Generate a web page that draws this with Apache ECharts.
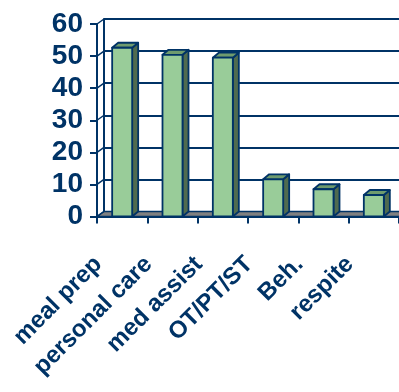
<!DOCTYPE html>
<html>
<head>
<meta charset="utf-8">
<script src="https://cdn.jsdelivr.net/npm/echarts@6/dist/echarts.min.js"></script>
<style>
html,body{margin:0;padding:0;background:#fff;}
#c{width:399px;height:392px;}
</style>
</head>
<body>
<div id="c"></div>
<script>
var categories = ['meal prep', 'personal care', 'med assist', 'OT/PT/ST', 'Beh.', 'respite'];
var values = [52.6, 50.4, 49.5, 11.6, 8.5, 6.7];
var yTicks = [0, 10, 20, 30, 40, 50, 60];

var NAVY = '#003366';
var DX = 7, DY = -5;      // wall depth
var BDX = 6, BDY = -5;    // bar depth
var BAR_W = 20;

var chart = echarts.init(document.getElementById('c'), null, {renderer: 'canvas'});

function wallRender(params, api) {
  var band = api.size([1, 0])[0];
  var p0 = api.coord([0, 0]);
  var pN = api.coord([categories.length - 1, 0]);
  var xl = p0[0] - band / 2, xr = pN[0] + band / 2, yb = p0[1];
  var children = [];
  children.push({
    type: 'polygon', z2: 1,
    shape: {points: [[xl, yb], [xr, yb], [xr + DX, yb + DY], [xl + DX, yb + DY]]},
    style: {fill: '#808080', stroke: NAVY, lineWidth: 1.5}
  });
  yTicks.forEach(function (v) {
    var p = api.coord([0, v]);
    children.push({
      type: 'line', z2: 2,
      shape: {x1: xl, y1: p[1], x2: xl + DX, y2: p[1] + DY},
      style: {stroke: NAVY, lineWidth: 1.5}
    });
  });
  return {type: 'group', children: children};
}

function barRender(params, api) {
  var v = api.value(1);
  var top = api.coord([api.value(0), v]);
  var bot = api.coord([api.value(0), 0]);
  var cx = top[0], yt = top[1], yb = bot[1];
  var x0 = cx - BAR_W / 2, x1 = cx + BAR_W / 2;
  var st = {stroke: NAVY, lineWidth: 1.8, lineJoin: 'round'};
  return {
    type: 'group',
    children: [
      {type: 'polygon', shape: {points: [[x1, yt], [x1 + BDX, yt + BDY], [x1 + BDX, yb + BDY], [x1, yb]]},
        style: Object.assign({fill: '#4F6B4F'}, st)},
      {type: 'polygon', shape: {points: [[x0, yt], [x1, yt], [x1 + BDX, yt + BDY], [x0 + BDX, yt + BDY]]},
        style: Object.assign({fill: '#6E9B6E'}, st)},
      {type: 'rect', shape: {x: x0, y: yt, width: BAR_W, height: yb - yt},
        style: Object.assign({fill: '#99CC99'}, st)}
    ]
  };
}

var gridW = 303.6, gridH = 192.5, gridL = 97, gridT = 24;

chart.setOption({
  animation: false,
  backgroundColor: '#fff',
  grid: [
    {left: gridL, top: gridT, width: gridW, height: gridH, containLabel: false},
    {left: gridL + DX, top: gridT + DY, width: gridW, height: gridH, containLabel: false}
  ],
  xAxis: [
    {
      type: 'category', gridIndex: 0, data: categories, boundaryGap: true,
      axisLine: {show: true, lineStyle: {color: NAVY, width: 2}},
      axisTick: {show: true, length: 7, lineStyle: {color: NAVY, width: 2}},
      axisLabel: {
        rotate: 45, margin: 20, interval: 0,
        color: NAVY, fontFamily: '"Liberation Sans", Arial, sans-serif',
        fontWeight: 'bold', fontSize: 24, padding: [0, 34, 0, 0]
      },
      splitLine: {show: false}, z: 5
    },
    {
      type: 'category', gridIndex: 1, data: categories, boundaryGap: true,
      axisLine: {show: false}, axisTick: {show: false}, axisLabel: {show: false},
      splitLine: {show: false}
    }
  ],
  yAxis: [
    {
      type: 'value', gridIndex: 0, min: 0, max: 60, interval: 10,
      axisLine: {show: true, lineStyle: {color: NAVY, width: 2}},
      axisTick: {show: true, length: 7, lineStyle: {color: NAVY, width: 2}},
      axisLabel: {
        margin: 14, color: NAVY, fontFamily: '"Liberation Sans", Arial, sans-serif',
        fontWeight: 'bold', fontSize: 28
      },
      splitLine: {show: false}, z: 5
    },
    {
      type: 'value', gridIndex: 1, min: 0, max: 60, interval: 10,
      axisLine: {show: true, lineStyle: {color: NAVY, width: 2}},
      axisTick: {show: false}, axisLabel: {show: false},
      splitLine: {show: true, lineStyle: {color: NAVY, width: 2}}
    }
  ],
  series: [
    {
      type: 'custom', xAxisIndex: 0, yAxisIndex: 0, z: 1,
      renderItem: wallRender, data: [[0, 0]], silent: true
    },
    {
      type: 'custom', xAxisIndex: 0, yAxisIndex: 0, z: 3,
      renderItem: barRender,
      data: values.map(function (v, i) { return [i, v]; }),
      encode: {x: 0, y: 1}
    }
  ]
});
</script>
</body>
</html>
